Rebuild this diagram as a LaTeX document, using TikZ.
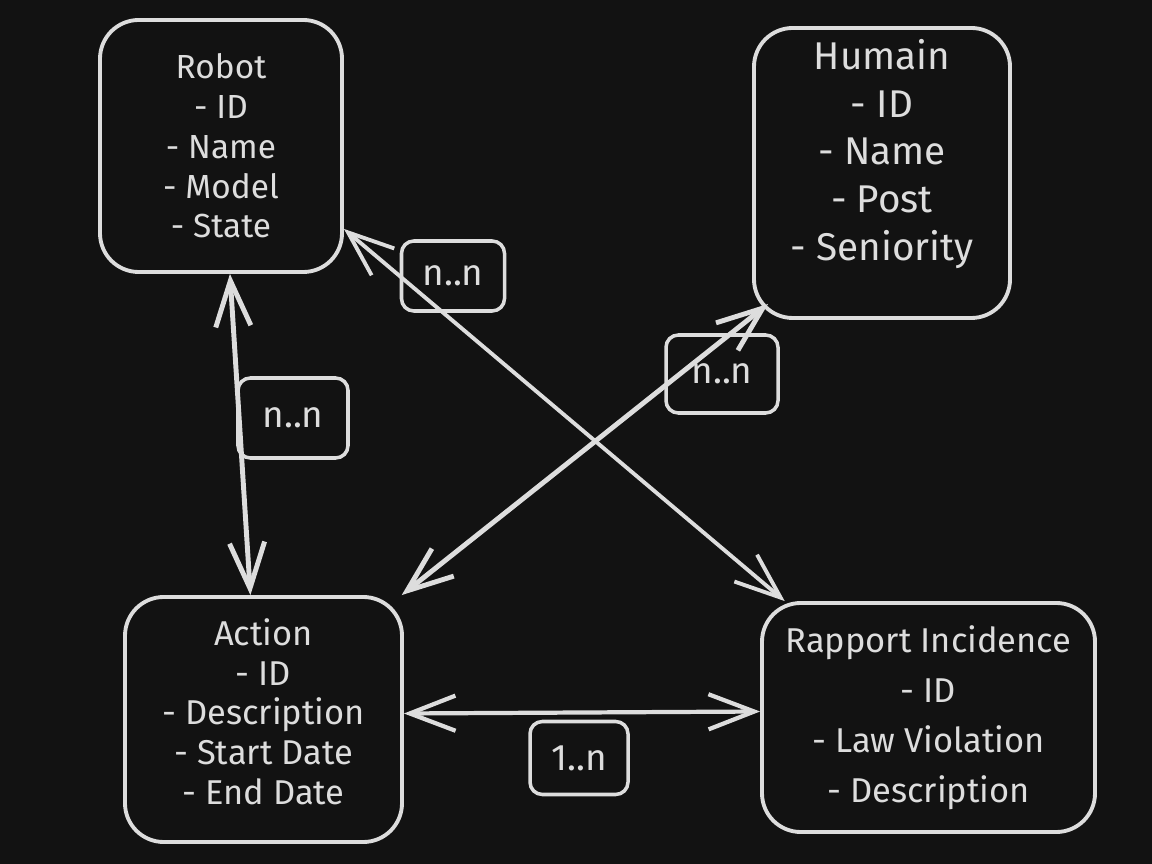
\documentclass[tikz,border=0pt]{standalone}
\usepackage{fontspec}
\setmainfont{Fira Sans}
\usetikzlibrary{arrows.meta,positioning,calc}
\definecolor{exbg}{HTML}{121212}
\definecolor{exink}{HTML}{DDDDDD}

\begin{document}
\begin{tikzpicture}[
  entity/.style={rectangle, rounded corners=11pt, draw=exink, line width=1.1pt,
                 align=center, text=exink, inner sep=0pt},
  etext/.style={text=exink, align=center},
  card/.style={rectangle, rounded corners=3.5pt, draw=exink, line width=1pt,
               text=exink, font=\fontsize{10.5}{12}\selectfont, inner sep=0pt},
  rel/.style={{Straight Barb[length=13pt,width=10pt]}-{Straight Barb[length=13pt,width=10pt]},
              draw=exink, line cap=round, line join=round}
]
% Background
\fill[exbg] (0,0) rectangle (11.52,-8.64);
\useasboundingbox (0,0) rectangle (11.52,-8.64);

% Entities
\node[entity, minimum width=2.42cm, minimum height=2.52cm,
      font=\fontsize{9.5}{11.3}\selectfont]                  (robot)   at (2.21,-1.46)
  {Robot\\- ID\\- Name\\- Model\\- State};

\node[entity, minimum width=2.56cm, minimum height=2.90cm]   (humain)  at (8.82,-1.73) {};
\node[etext, font=\fontsize{11}{13.6}\selectfont]
      (humaintxt) at ([yshift=0.19cm]humain.center)
  {Humain\\- ID\\- Name\\- Post\\- Seniority};

\node[entity, minimum width=2.77cm, minimum height=2.45cm]   (action)  at (2.635,-7.195) {};
\node[etext, font=\fontsize{9.8}{11.3}\selectfont]
      (actiontxt) at ([yshift=0.08cm]action.center)
  {Action\\- ID\\- Description\\- Start Date\\- End Date};

\node[entity, minimum width=3.33cm, minimum height=2.29cm,
      font=\fontsize{9.8}{14.2}\selectfont]                  (rapport) at (9.285,-7.175)
  {Rapport Incidence\\- ID\\- Law Violation\\- Description};

% Relations
\draw[rel, line width=1.4pt] (robot.-86) -- (action.96);
\draw[rel, line width=1.1pt] (robot.-34) -- (rapport.141);
\draw[rel, line width=1.4pt] (action.42) -- ([shift={(0.16,0.16)}]humain.south west);
\draw[rel, line width=1.2pt] ([yshift=0.06cm]action.east) -- ([yshift=0.06cm]rapport.west);

% Cardinalities
\node[card, minimum width=1.03cm, minimum height=0.70cm] (cardrr) at (4.53,-2.76) {n..n};
\node[card, minimum width=1.12cm, minimum height=0.78cm] (cardha) at (7.22,-3.74) {n..n};
\node[card, minimum width=1.10cm, minimum height=0.80cm] (cardra) at (2.93,-4.18) {n..n};
\node[card, minimum width=0.98cm, minimum height=0.73cm] (cardar) at (5.79,-7.58) {1..n};
\end{tikzpicture}
\end{document}
